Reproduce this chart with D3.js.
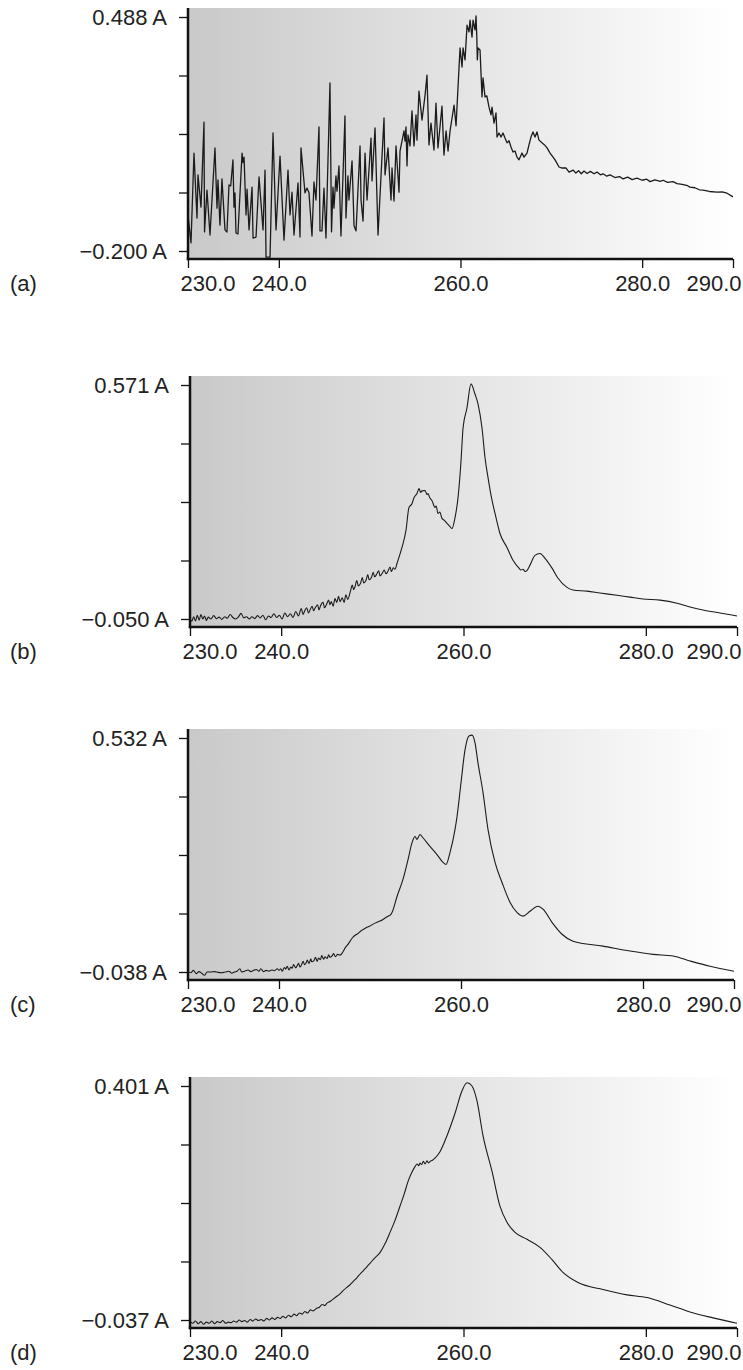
<!DOCTYPE html>
<html>
<head>
<meta charset="utf-8">
<script src="https://cdn.jsdelivr.net/npm/d3@7"></script>
<style>
  body { margin: 0; background: #fff; }
  svg { display: block; font-family: "Liberation Sans", Arial, sans-serif; }
</style>
</head>
<body>
<div id="chart"></div>
<script>
// Datos: [longitud de onda (nm), absorbancia (A)]
const wavelengthTicks = [230, 240, 260, 280, 290];
const panelLabels = ["(a)", "(b)", "(c)", "(d)"];
const yRanges = [[-0.200, 0.488], [-0.050, 0.571], [-0.038, 0.532], [-0.037, 0.401]];

const spectrumA = [
  [230.00,-0.094],[230.33,-0.176],[230.66,0.088],[230.99,-0.103],[231.10,0.024],[231.43,-0.071],[231.76,0.179],[231.82,-0.144],
  [232.09,-0.021],[232.42,-0.153],[232.97,0.103],[233.19,-0.074],[233.30,0.009],[233.52,-0.124],[233.74,0.012],[234.07,-0.138],
  [234.29,-0.144],[234.51,-0.006],[234.70,-0.009],[234.95,0.068],[235.06,-0.071],[235.17,-0.029],[235.28,-0.147],[235.50,-0.150],
  [235.95,0.088],[236.06,0.060],[236.17,0.076],[236.39,-0.094],[236.50,-0.018],[236.72,-0.138],[237.05,-0.012],[237.16,-0.162],
  [237.49,-0.159],[237.82,0.018],[238.26,-0.138],[238.48,0.038],[238.59,-0.218],[239.03,-0.218],[239.36,0.147],[239.69,-0.138],
  [240.13,0.079],[240.57,-0.168],[241.01,0.038],[241.23,-0.094],[241.45,-0.027],[241.67,-0.153],[242.11,0.000],[242.33,-0.159],
  [242.44,0.103],[242.88,-0.029],[243.10,-0.015],[243.32,-0.029],[243.65,-0.156],[243.87,0.003],[244.09,-0.050],[244.42,0.165],
  [244.53,-0.141],[244.75,-0.141],[244.97,-0.015],[245.19,-0.162],[245.63,0.294],[245.80,-0.144],[245.96,-0.012],[246.07,-0.074],
  [246.29,0.021],[246.40,-0.024],[246.62,0.050],[246.84,-0.156],[247.28,0.197],[247.39,-0.103],[247.61,0.021],[247.72,-0.050],
  [248.06,0.065],[248.28,-0.126],[248.50,-0.141],[248.94,0.109],[249.05,-0.050],[249.27,-0.112],[249.49,0.088],[249.71,-0.050],
  [250.15,0.132],[250.26,0.006],[250.59,0.162],[250.92,-0.153],[251.36,0.079],[251.58,0.191],[251.69,0.024],[252.02,0.103],
  [252.35,-0.050],[252.46,0.044],[252.68,-0.053],[252.90,0.109],[253.23,-0.027],[253.34,0.094],[253.78,0.153],[253.89,0.123],
  [254.00,0.165],[254.11,0.050],[254.22,0.141],[254.44,0.109],[254.66,0.212],[254.88,0.109],[255.10,0.200],[255.21,0.126],
  [255.43,0.270],[255.76,0.185],[256.09,0.256],[256.31,0.317],[256.53,0.112],[256.75,0.176],[257.08,0.097],[257.30,0.235],
  [257.52,0.103],[257.96,0.226],[258.18,0.082],[258.41,0.153],[258.63,0.094],[258.85,0.153],[259.07,0.191],[259.29,0.229],
  [259.51,0.168],[259.84,0.341],[259.95,0.397],[260.17,0.341],[260.28,0.397],[260.50,0.362],[260.72,0.464],[260.94,0.444],
  [261.05,0.479],[261.27,0.429],[261.38,0.479],[261.60,0.450],[261.71,0.491],[261.80,0.426],[261.85,0.362],[261.93,0.397],
  [262.15,0.391],[262.37,0.253],[262.48,0.309],[262.70,0.253],[262.90,0.256],[263.14,0.223],[263.36,0.200],[263.47,0.223],
  [263.69,0.176],[263.91,0.206],[264.02,0.135],[264.24,0.147],[264.46,0.135],[264.68,0.147],[264.90,0.132],[265.12,0.118],
  [265.34,0.124],[265.56,0.106],[265.78,0.091],[266.00,0.094],[266.22,0.076],[266.44,0.068],[266.77,0.088],[266.99,0.076],
  [267.32,0.088],[267.54,0.112],[267.76,0.135],[267.98,0.150],[268.20,0.135],[268.42,0.150],[268.64,0.126],[268.97,0.118],
  [269.25,0.112],[269.53,0.103],[269.86,0.088],[270.19,0.076],[270.41,0.068],[270.85,0.047],[271.18,0.044],[271.62,0.044],
  [271.95,0.032],[272.39,0.038],[272.70,0.029],[273.00,0.036],[273.30,0.027],[273.60,0.035],[273.93,0.028],[274.30,0.034],
  [274.70,0.027],[275.03,0.032],[275.40,0.024],[275.69,0.027],[276.10,0.020],[276.46,0.024],[277.00,0.016],[277.50,0.019],
  [277.89,0.012],[278.40,0.017],[278.90,0.010],[279.43,0.014],[280.00,0.008],[280.50,0.011],[280.87,0.004],[281.40,0.009],
  [282.00,0.005],[282.30,0.008],[282.80,0.002],[283.40,0.004],[283.84,-0.002],[284.40,-0.004],[285.00,-0.008],[285.27,-0.012],
  [285.80,-0.014],[286.30,-0.020],[286.70,-0.021],[287.40,-0.025],[288.24,-0.027],[288.80,-0.026],[289.34,-0.030],[290.00,-0.041]
];

const spectrumB = [
  [230.0,-0.048],[230.2,-0.056],[230.4,-0.044],[230.6,-0.055],[230.8,-0.040],[231.0,-0.053],[231.2,-0.038],[231.4,-0.050],
  [231.6,-0.042],[231.8,-0.054],[232.0,-0.045],[232.3,-0.050],[232.6,-0.041],[232.9,-0.049],[233.2,-0.045],[233.5,-0.051],
  [233.8,-0.044],[234.1,-0.048],[234.4,-0.038],[234.7,-0.046],[235.0,-0.050],[235.3,-0.045],[235.6,-0.035],[235.9,-0.047],
  [236.2,-0.044],[236.5,-0.050],[236.8,-0.044],[237.1,-0.049],[237.4,-0.041],[237.7,-0.047],[238.0,-0.040],[238.3,-0.052],
  [238.6,-0.042],[238.9,-0.046],[239.2,-0.036],[239.5,-0.046],[239.8,-0.040],[240.1,-0.050],[240.4,-0.034],[240.7,-0.044],
  [241.0,-0.036],[241.3,-0.046],[241.6,-0.030],[241.9,-0.042],[242.2,-0.022],[242.4,-0.038],[242.55,-0.030],[242.8,-0.020],
  [243.0,-0.034],[243.2,-0.024],[243.4,-0.016],[243.55,-0.028],[243.7,-0.022],[244.0,-0.012],[244.15,-0.026],[244.3,-0.016],
  [244.6,-0.006],[244.75,-0.020],[245.0,-0.010],[245.2,0.000],[245.35,-0.012],[245.5,-0.004],[245.7,-0.016],[245.9,0.004],
  [246.1,-0.006],[246.3,0.010],[246.45,-0.004],[246.7,0.006],[246.9,-0.006],[247.1,0.014],[247.3,0.002],[247.6,0.024],
  [247.8,0.040],[247.95,0.028],[248.1,0.036],[248.3,0.052],[248.45,0.038],[248.7,0.044],[248.9,0.060],[249.05,0.046],
  [249.3,0.052],[249.5,0.068],[249.65,0.054],[249.9,0.060],[250.1,0.074],[250.25,0.062],[250.5,0.070],[250.7,0.078],
  [250.85,0.064],[251.1,0.072],[251.3,0.080],[251.5,0.070],[251.7,0.076],[251.94,0.088],[252.1,0.076],[252.3,0.086],
  [252.49,0.082],[252.71,0.098],[253.25,0.140],[253.69,0.185],[254.02,0.246],[254.35,0.256],[254.57,0.272],[254.90,0.283],
  [255.12,0.296],[255.30,0.286],[255.45,0.290],[255.78,0.291],[256.00,0.280],[256.11,0.283],[256.30,0.272],[256.55,0.264],
  [256.87,0.246],[257.00,0.250],[257.20,0.230],[257.40,0.234],[257.64,0.217],[257.90,0.212],[258.19,0.204],[258.50,0.196],
  [258.74,0.190],[259.07,0.219],[259.40,0.272],[259.73,0.370],[259.95,0.457],[260.38,0.510],[260.82,0.574],[261.26,0.547],
  [261.59,0.521],[262.03,0.457],[262.36,0.378],[262.69,0.325],[263.02,0.278],[263.46,0.230],[264.00,0.177],[264.77,0.140],
  [265.43,0.106],[266.09,0.085],[266.30,0.080],[266.53,0.082],[266.75,0.076],[266.97,0.079],[267.29,0.093],[267.84,0.119],
  [268.39,0.124],[268.94,0.111],[269.71,0.085],[270.37,0.058],[271.35,0.034],[272.01,0.027],[273.55,0.024],[274.97,0.019],
  [276.84,0.013],[278.26,0.008],[279.69,0.003],[281.55,0.000],[283.42,-0.008],[284.84,-0.018],[286.27,-0.026],[288.13,-0.034],
  [290.00,-0.042]
];

const spectrumC = [
  [230.0,-0.036],[230.3,-0.040],[230.6,-0.034],[230.9,-0.042],[231.2,-0.037],[231.5,-0.041],[231.8,-0.046],[232.1,-0.038],
  [232.5,-0.038],[232.9,-0.037],[233.3,-0.039],[233.7,-0.040],[234.1,-0.038],[234.5,-0.036],[234.8,-0.041],[235.1,-0.038],
  [235.4,-0.036],[235.7,-0.030],[235.9,-0.038],[236.2,-0.036],[236.6,-0.033],[236.9,-0.037],[237.2,-0.034],[237.5,-0.032],
  [237.8,-0.036],[238.0,-0.030],[238.3,-0.037],[238.6,-0.034],[238.9,-0.036],[239.2,-0.033],[239.5,-0.035],[239.8,-0.030],
  [240.0,-0.034],[240.2,-0.030],[240.35,-0.036],[240.6,-0.027],[240.75,-0.031],[240.9,-0.024],[241.1,-0.033],[241.3,-0.026],
  [241.45,-0.029],[241.6,-0.020],[241.85,-0.028],[242.0,-0.022],[242.15,-0.017],[242.3,-0.026],[242.5,-0.019],[242.65,-0.012],
  [242.8,-0.020],[243.0,-0.015],[243.1,-0.009],[243.3,-0.017],[243.5,-0.006],[243.6,-0.013],[243.85,-0.010],[244.0,-0.002],
  [244.2,-0.012],[244.35,-0.004],[244.55,-0.008],[244.7,0.002],[244.9,-0.007],[245.05,-0.001],[245.3,-0.005],[245.45,0.004],
  [245.6,-0.002],[245.85,0.002],[246.0,0.007],[246.2,-0.001],[246.45,0.005],[246.7,0.003],[247.0,0.010],[247.3,0.022],
  [247.6,0.030],[247.9,0.040],[248.1,0.046],[248.4,0.052],[248.7,0.056],[249.0,0.062],[249.3,0.066],[249.67,0.071],
  [250.0,0.074],[250.3,0.078],[250.77,0.083],[251.1,0.086],[251.43,0.090],[251.7,0.094],[251.98,0.098],[252.2,0.100],
  [252.42,0.107],[252.97,0.146],[253.63,0.188],[254.18,0.236],[254.62,0.277],[254.95,0.292],[255.16,0.285],[255.49,0.297],
  [255.82,0.289],[256.59,0.268],[257.36,0.248],[258.02,0.229],[258.35,0.224],[258.79,0.253],[259.34,0.309],[259.56,0.340],
  [260.00,0.423],[260.44,0.503],[260.88,0.537],[261.21,0.539],[261.54,0.520],[261.87,0.471],[262.42,0.399],[262.97,0.309],
  [263.74,0.229],[264.51,0.180],[265.38,0.132],[266.15,0.107],[266.81,0.098],[267.58,0.110],[268.46,0.122],[269.01,0.115],
  [270.00,0.083],[271.10,0.054],[272.31,0.037],[275.60,0.025],[278.57,0.013],[281.10,0.005],[283.30,0.001],[285.16,-0.011],
  [287.36,-0.024],[290.00,-0.036]
];

const spectrumD = [
  [230.0,-0.040],[230.3,-0.043],[230.6,-0.039],[230.9,-0.044],[231.2,-0.040],[231.5,-0.045],[231.8,-0.041],[232.1,-0.043],
  [232.4,-0.039],[232.7,-0.044],[233.0,-0.040],[233.3,-0.042],[233.6,-0.038],[233.9,-0.043],[234.2,-0.041],[234.5,-0.042],
  [234.8,-0.039],[235.1,-0.041],[235.4,-0.037],[235.7,-0.040],[236.0,-0.038],[236.3,-0.041],[236.6,-0.036],[236.9,-0.039],
  [237.2,-0.035],[237.5,-0.038],[237.8,-0.036],[238.1,-0.039],[238.4,-0.034],[238.7,-0.037],[239.0,-0.033],[239.3,-0.036],
  [239.6,-0.032],[239.9,-0.034],[240.2,-0.030],[240.5,-0.033],[240.8,-0.028],[241.1,-0.031],[241.4,-0.026],[241.7,-0.029],
  [242.0,-0.024],[242.3,-0.026],[242.6,-0.021],[242.9,-0.024],[243.2,-0.018],[243.5,-0.020],[243.9,-0.015],[244.2,-0.013],
  [244.5,-0.008],[244.8,-0.010],[245.0,-0.006],[245.4,-0.002],[245.7,0.002],[246.0,0.006],[246.45,0.012],[246.8,0.018],
  [247.2,0.024],[247.5,0.028],[247.88,0.035],[248.3,0.042],[248.7,0.050],[249.0,0.055],[249.42,0.063],[249.74,0.069],
  [250.2,0.078],[250.84,0.089],[251.4,0.106],[251.94,0.127],[252.5,0.150],[253.03,0.176],[253.5,0.199],[253.91,0.222],
  [254.3,0.238],[254.68,0.250],[254.9,0.255],[255.1,0.252],[255.23,0.257],[255.4,0.254],[255.6,0.260],[255.78,0.255],
  [256.0,0.261],[256.15,0.257],[256.33,0.260],[256.6,0.262],[256.87,0.266],[257.42,0.278],[258.19,0.308],[259.07,0.350],
  [259.84,0.392],[260.38,0.407],[260.93,0.401],[261.48,0.373],[262.14,0.308],[263.13,0.241],[264.00,0.176],[264.77,0.146],
  [265.65,0.127],[266.97,0.114],[268.39,0.099],[269.71,0.076],[270.91,0.052],[272.56,0.033],[275.30,0.020],[277.93,0.010],
  [280.13,0.005],[282.65,-0.009],[284.84,-0.022],[287.37,-0.033],[290.00,-0.043]
];

const width = 743;
const height = 1370;

// Posición de cada panel (en píxeles)
const frames = [
  {top: 8, axisY: 259, x0: 188, x1: 733},
  {top: 376, axisY: 627, x0: 190, x1: 737},
  {top: 729, axisY: 980, x0: 188, x1: 734},
  {top: 1077, axisY: 1328, x0: 190, x1: 737}
];
const spectra = [spectrumA, spectrumB, spectrumC, spectrumD];
const curves = [d3.curveLinear, d3.curveMonotoneX, d3.curveMonotoneX, d3.curveMonotoneX];

const svg = d3.select("#chart")
    .append("svg")
    .attr("width", width)
    .attr("height", height);

// Fondo degradado gris -> blanco
const grad = svg.append("defs").append("linearGradient")
    .attr("id", "bg")
    .attr("x1", 0).attr("x2", 1).attr("y1", 0).attr("y2", 0);
grad.append("stop").attr("offset", 0).attr("stop-color", "#c9c9c9");
grad.append("stop").attr("offset", 1).attr("stop-color", "#ffffff");

const fmtY = d3.format(".3f");
const fmtX = d3.format(".1f");
const fontSize = 22;

frames.forEach(function (f, i) {
    const [lo, hi] = yRanges[i];
    const x = d3.scaleLinear()
        .domain([wavelengthTicks[0], wavelengthTicks[wavelengthTicks.length - 1]])
        .range([f.x0, f.x1]);
    const y = d3.scaleLinear()
        .domain([lo, hi])
        .range([f.axisY - 8, f.top + 9]);

    const g = svg.append("g");

    g.append("rect")
        .attr("x", f.x0)
        .attr("y", f.top)
        .attr("width", f.x1 - f.x0)
        .attr("height", f.axisY - f.top)
        .attr("fill", "url(#bg)");

    const line = d3.line()
        .x(d => x(d[0]))
        .y(d => y(d[1]))
        .curve(curves[i]);

    g.append("path")
        .datum(spectra[i])
        .attr("d", line)
        .attr("fill", "none")
        .attr("stroke", "#1b1b1b")
        .attr("stroke-width", i === 0 ? 1.3 : 1.1)
        .attr("stroke-linejoin", "round");

    // Eje Y: 5 marcas, sólo los extremos con etiqueta
    const yTicks = d3.range(5).map(k => lo + k * (hi - lo) / 4);
    const yAxis = d3.axisLeft(y)
        .tickValues(yTicks)
        .tickSize(9)
        .tickPadding(12)
        .tickFormat((d, k) => (k === 0 || k === 4) ? fmtY(d) + " A" : "");

    g.append("g")
        .attr("transform", `translate(${f.x0},0)`)
        .call(yAxis)
        .attr("font-size", fontSize)
        .attr("font-family", null)
        .call(s => s.select(".domain").remove())
        .call(s => s.selectAll(".tick line").attr("stroke", "#111").attr("stroke-width", 1.3))
        .call(s => s.selectAll(".tick text").attr("fill", "#222"));

    // Eje X
    const xAxis = d3.axisBottom(x)
        .tickValues(wavelengthTicks)
        .tickSize(9)
        .tickPadding(7)
        .tickFormat(fmtX);

    const xg = g.append("g")
        .attr("transform", `translate(0,${f.axisY})`)
        .call(xAxis)
        .attr("font-size", fontSize)
        .attr("font-family", null)
        .call(s => s.select(".domain").remove())
        .call(s => s.selectAll(".tick line").attr("stroke", "#111").attr("stroke-width", 1.3))
        .call(s => s.selectAll(".tick text").attr("fill", "#222"));

    // La primera y la última etiqueta no se salen del panel
    const labels = xg.selectAll(".tick text").nodes();
    d3.select(labels[0]).attr("text-anchor", "start").attr("x", -8);
    d3.select(labels[labels.length - 1]).attr("text-anchor", "end").attr("x", 741 - f.x1);

    // Líneas de eje gruesas
    g.append("line")
        .attr("x1", f.x0).attr("x2", f.x0)
        .attr("y1", f.top).attr("y2", f.axisY + 1.2)
        .attr("stroke", "#111").attr("stroke-width", 2.5);
    g.append("line")
        .attr("x1", f.x0 - 1.2).attr("x2", f.x1)
        .attr("y1", f.axisY).attr("y2", f.axisY)
        .attr("stroke", "#111").attr("stroke-width", 2.5);

    // Letra del panel
    svg.append("text")
        .attr("x", 10)
        .attr("y", f.axisY + 32)
        .attr("font-size", fontSize)
        .attr("fill", "#222")
        .text(panelLabels[i]);
});
</script>
</body>
</html>
